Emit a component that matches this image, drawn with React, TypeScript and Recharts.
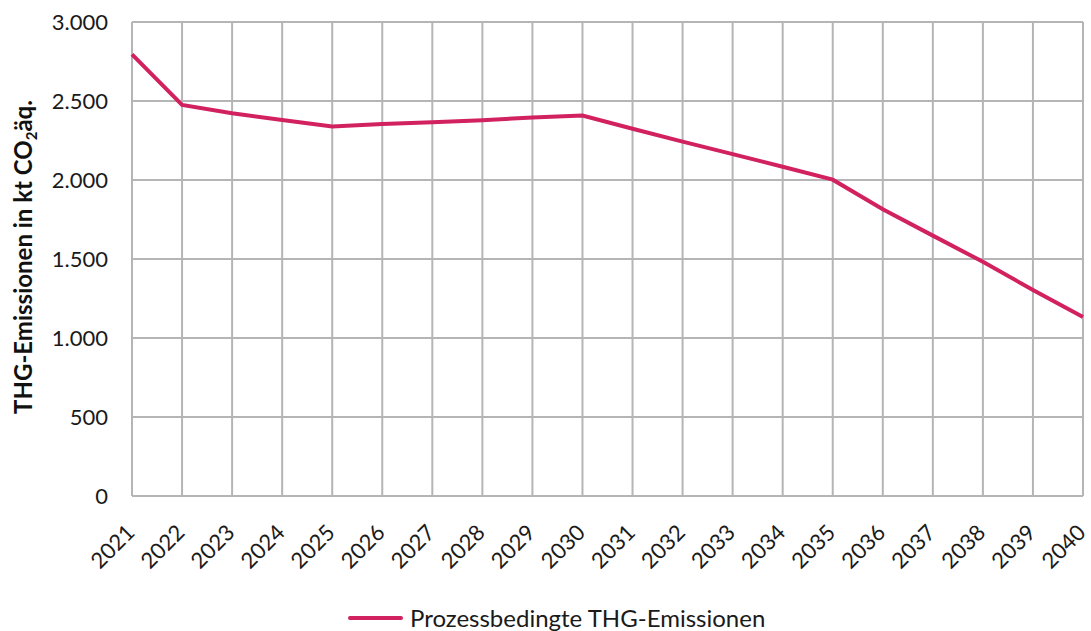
import React from "react";
import { LineChart, Line, XAxis, YAxis, CartesianGrid } from "recharts";

const years = ["2021","2022","2023","2024","2025","2026","2027","2028","2029","2030","2031","2032","2033","2034","2035","2036","2037","2038","2039","2040"];
const emissions = [2795, 2475, 2422, 2380, 2338, 2354, 2365, 2378, 2396, 2408, 2324, 2243, 2164, 2084, 2002, 1815, 1648, 1482, 1304, 1133];
const yTicks = [0, 500, 1000, 1500, 2000, 2500, 3000];
const seriesName = "Prozessbedingte THG-Emissionen";

const data = years.map((y, i) => ({ year: y, value: emissions[i] }));

const FONT = "Lato, 'Open Sans', sans-serif";
const LINE_COLOR = "#D2215F";
const GRID = "#B5B5B5";

const fmt = (v: number) => String(v).replace(/\B(?=(\d{3})+(?!\d))/g, ".");

const YTick = (props: any) => {
  const { y, payload } = props;
  return (
    <text x={108} y={y} dy={8} textAnchor="end" fontFamily={FONT} fontSize={22} fill="#1a1a1a">
      {fmt(payload.value)}
    </text>
  );
};

const XTick = (props: any) => {
  const { x, y, payload } = props;
  const ax = x + 4;
  const ay = y + 30;
  return (
    <text x={ax} y={ay} textAnchor="end" transform={`rotate(-45, ${ax}, ${ay})`} fontFamily={FONT} fontSize={22} fill="#1a1a1a">
      {payload.value}
    </text>
  );
};

const YTitle = () => (
  <text
    x={0}
    y={0}
    transform="translate(32, 257) rotate(-90)"
    textAnchor="middle"
    fontFamily={FONT}
    fontSize={24}
    fontWeight={700}
    fill="#111"
  >
    THG-Emissionen in kt CO
    <tspan fontSize={15} dy={5}>2</tspan>
    <tspan dy={-5}>äq.</tspan>
  </text>
);

export default function App() {
  return (
    <div style={{ position: "absolute", left: 0, top: 0, width: 1091, height: 631, background: "#fff" }}>
      <LineChart width={1091} height={631} data={data} margin={{ top: 22, right: 8, bottom: 35, left: 0 }} style={{ overflow: "visible" }}>
        <CartesianGrid stroke={GRID} strokeWidth={2} />
        <XAxis dataKey="year" axisLine={false} tickLine={false} tick={<XTick />} interval={0} height={100} />
        <YAxis
          domain={[0, 3000]}
          ticks={yTicks}
          axisLine={false}
          tickLine={false}
          tick={<YTick />}
          width={132}
          label={<YTitle />}
        />
        <Line
          type="linear"
          dataKey="value"
          name={seriesName}
          stroke={LINE_COLOR}
          strokeWidth={4}
          dot={false}
          isAnimationActive={false}
        />
      </LineChart>
      <div
        style={{
          position: "absolute",
          left: 348,
          top: 603,
          display: "flex",
          alignItems: "center",
          fontFamily: FONT,
          fontSize: 24,
          color: "#1a1a1a",
        }}
      >
        <div style={{ width: 55, height: 4, background: LINE_COLOR, borderRadius: 2, marginRight: 7 }} />
        <span>{seriesName}</span>
      </div>
    </div>
  );
}
